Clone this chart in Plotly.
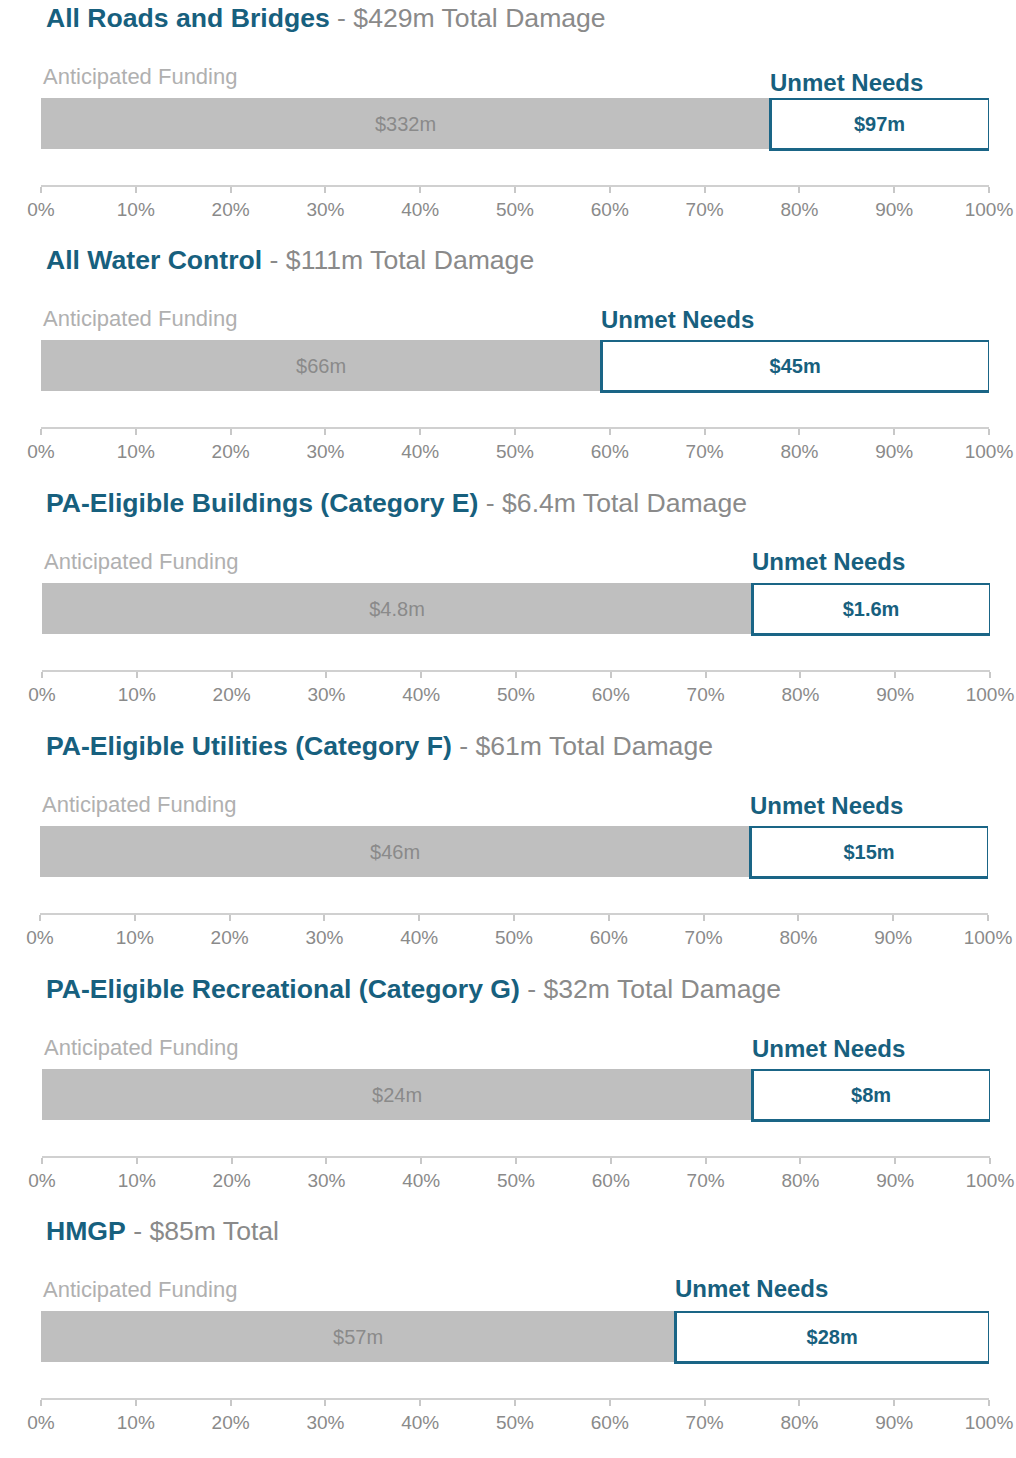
import plotly.graph_objects as go

# ---- data ----
categories = ["All Roads and Bridges", "All Water Control",
              "PA-Eligible Buildings (Category E)", "PA-Eligible Utilities (Category F)",
              "PA-Eligible Recreational (Category G)", "HMGP"]
totals = ["$429m Total Damage", "$111m Total Damage", "$6.4m Total Damage",
          "$61m Total Damage", "$32m Total Damage", "$85m Total"]
funded_pct = [76.9, 59.1, 74.9, 74.9, 74.9, 66.9]
unmet_pct = [round(100 - v, 1) for v in funded_pct]
funded_labels = ["$332m", "$66m", "$4.8m", "$46m", "$24m", "$57m"]
unmet_labels = ["$97m", "$45m", "$1.6m", "$15m", "$8m", "$28m"]
tick_vals = [0, 10, 20, 30, 40, 50, 60, 70, 80, 90, 100]
tick_text = ["0%", "10%", "20%", "30%", "40%", "50%", "60%", "70%", "80%", "90%", "100%"]

W, H = 1016, 1458
TEAL = "#17607e"
BORDER = "#1a6586"
GRAY_BAR = "#bfbfbf"
GRAY_TXT = "#8a8a8a"
LIGHT_TXT = "#b0b0b0"
FONT = "Liberation Sans, Arial, sans-serif"

bar_tops = [98, 340, 583, 826, 1069, 1311]
x_left = [41, 41, 42, 40, 42, 41]
unmet_offset = [16, 20, 22, 21, 21, 23]
BAR_H = 51
AXIS_GAP = 87  # from bar top to axis line

def py(px):
    return 1 - px / H

fig = go.Figure()
layout = dict(
    width=W, height=H, autosize=False, margin=dict(l=0, r=0, t=0, b=0, autoexpand=False),
    paper_bgcolor="white", plot_bgcolor="white",
    barmode="stack", showlegend=False, font=dict(family=FONT),
)
annotations = []
span = AXIS_GAP / BAR_H  # y-units spanned by the domain (bar width = 1)

for i in range(len(categories)):
    n = "" if i == 0 else str(i + 1)
    xa, ya = "x" + n, "y" + n
    top = bar_tops[i]
    x0 = x_left[i] / W
    x1 = (x_left[i] + 948) / W
    fig.add_trace(go.Bar(
        x=[funded_pct[i]], y=[0], orientation="h", width=1,
        marker=dict(color=GRAY_BAR, line=dict(width=0)),
        text=[funded_labels[i]], textposition="inside", insidetextanchor="middle",
        textfont=dict(color=GRAY_TXT, size=20, family=FONT),
        xaxis=xa, yaxis=ya, hoverinfo="skip", cliponaxis=False,
    ))
    fig.add_trace(go.Bar(
        x=[unmet_pct[i]], y=[0], orientation="h", width=1,
        marker=dict(color="white", line=dict(color=BORDER, width=3)),
        text=["<b>" + unmet_labels[i] + "</b>"], textposition="inside", insidetextanchor="middle",
        textfont=dict(color=TEAL, size=20, family=FONT),
        xaxis=xa, yaxis=ya, hoverinfo="skip", cliponaxis=False,
    ))
    layout["xaxis" + n] = dict(
        domain=[x0, x1], range=[0, 100], anchor=ya, automargin=False,
        tickvals=tick_vals, ticktext=tick_text,
        showline=True, linecolor="#d0d0d0", linewidth=2,
        ticks="outside", ticklen=6, tickcolor="#c8c8c8", tickwidth=1.5,
        tickfont=dict(color=GRAY_TXT, size=19, family=FONT),
        showgrid=False, zeroline=False, fixedrange=True,
    )
    layout["yaxis" + n] = dict(
        domain=[py(top + AXIS_GAP), py(top)], range=[0.5 - span, 0.5], anchor=xa,
        visible=False, fixedrange=True, automargin=False,
    )
    # title
    annotations.append(dict(
        xref="paper", yref="paper", x=44 / W, y=py(top - 80), xanchor="left", yanchor="middle",
        showarrow=False,
        text="<b><span style='color:%s'>%s</span></b><span style='color:%s'> - %s</span>"
             % (TEAL, categories[i], GRAY_TXT, totals[i]),
        font=dict(size=26.6, family=FONT),
    ))
    annotations.append(dict(
        xref="paper", yref="paper", x=(x_left[i]) / W, y=py(top - 22), xanchor="left", yanchor="middle",
        showarrow=False, text="Anticipated Funding",
        font=dict(size=22, color=LIGHT_TXT, family=FONT),
    ))
    annotations.append(dict(
        xref=xa, yref="paper", x=funded_pct[i], y=py(top - unmet_offset[i]), xanchor="left", yanchor="middle",
        showarrow=False, text="<b>Unmet Needs</b>", xshift=-2,
        font=dict(size=24, color=TEAL, family=FONT),
    ))

layout["annotations"] = annotations
fig.update_layout(**layout)
post = ("document.body.style.margin='0';document.body.style.padding='0';"
        "document.body.style.overflow='hidden';document.documentElement.style.overflow='hidden';")
fig.write_html("out.html", config={"responsive": False, "displayModeBar": False},
               post_script=post, default_width="1016px", default_height="1458px")
